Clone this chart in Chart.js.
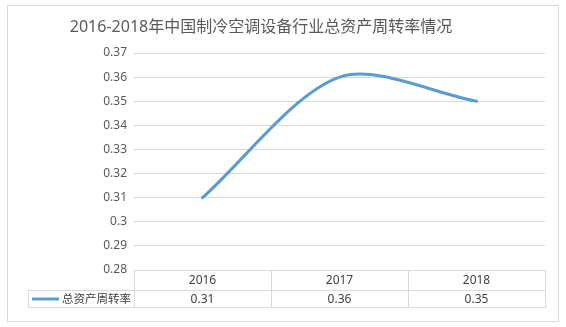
<!DOCTYPE html>
<html>
<head>
<meta charset="utf-8">
<script src="https://cdn.jsdelivr.net/npm/chart.js@4/dist/chart.umd.min.js"></script>
<style>
  html, body { margin: 0; padding: 0; background: #fff; }
  #wrap { position: relative; width: 566px; height: 327px; }
  #frame { position: absolute; left: 7px; top: 5px; width: 550px; height: 315px; border: 1px solid #d9d9d9; }
  canvas { position: absolute; left: 0; top: 0; }
</style>
</head>
<body>
<div id="wrap">
  <div id="frame"></div>
  <canvas id="c" width="566" height="327"></canvas>
</div>
<script>
const titleText = '2016-2018年中国制冷空调设备行业总资产周转率情况';
const categories = ['2016', '2017', '2018'];
const seriesName = '总资产周转率';
const turnover = [0.31, 0.36, 0.35];
const yMin = 0.28;
const yMax = 0.37;
const yStep = 0.01;

const FONT = '"Noto Sans", "Noto Sans CJK SC", sans-serif';
const LINE_COLOR = '#5B9BD5';
const GRID_COLOR = '#d9d9d9';

const tablePlugin = {
  id: 'tablePlugin',
  afterDraw(chart) {
    const ctx = chart.ctx;
    const area = chart.chartArea;
    const xs = chart.scales.x;
    const n = categories.length;
    const colW = (area.right - area.left) / n;
    const top = area.bottom;
    const mid = top + 20;
    const bot = top + 37;
    const legendLeft = 28;
    ctx.save();
    // title
    ctx.fillStyle = '#595959';
    ctx.font = '16px ' + FONT;
    ctx.textAlign = 'center';
    ctx.textBaseline = 'middle';
    ctx.fillText(titleText, 261, 27);
    // table lines
    ctx.strokeStyle = GRID_COLOR;
    ctx.lineWidth = 1;
    ctx.beginPath();
    ctx.moveTo(area.left, Math.round(top) + 0.5); ctx.lineTo(area.right + 1, Math.round(top) + 0.5);
    ctx.moveTo(legendLeft, Math.round(mid) + 0.5); ctx.lineTo(area.right + 1, Math.round(mid) + 0.5);
    ctx.moveTo(legendLeft, Math.round(bot) + 0.5); ctx.lineTo(area.right + 1, Math.round(bot) + 0.5);
    ctx.moveTo(legendLeft + 0.5, Math.round(mid)); ctx.lineTo(legendLeft + 0.5, Math.round(bot) + 1);
    for (let i = 0; i <= n; i++) {
      const x = Math.round(area.left + i * colW) + 0.5;
      ctx.moveTo(x, Math.round(top)); ctx.lineTo(x, Math.round(bot) + 1);
    }
    ctx.stroke();
    // texts
    ctx.fillStyle = '#404040';
    ctx.font = '12px ' + FONT;
    ctx.textAlign = 'center';
    for (let i = 0; i < n; i++) {
      const cx = xs.getPixelForValue(i);
      ctx.fillText(categories[i], cx, (top + mid) / 2 + 1);
      ctx.fillText(String(turnover[i]), cx, (mid + bot) / 2 + 1);
    }
    // legend
    ctx.strokeStyle = LINE_COLOR;
    ctx.lineWidth = 3;
    ctx.beginPath();
    ctx.moveTo(32, (mid + bot) / 2 + 0.5);
    ctx.lineTo(59, (mid + bot) / 2 + 0.5);
    ctx.stroke();
    ctx.fillStyle = '#404040';
    ctx.textAlign = 'left';
    ctx.font = '11.5px ' + FONT;
    ctx.fillText(seriesName, 62, (mid + bot) / 2 + 1);
    ctx.restore();
  }
};

new Chart(document.getElementById('c'), {
  type: 'line',
  data: {
    labels: categories,
    datasets: [{
      label: seriesName,
      data: turnover,
      borderColor: LINE_COLOR,
      borderWidth: 3,
      pointRadius: 0,
      pointHoverRadius: 0,
      fill: false,
      tension: 0.3,
      borderCapStyle: 'round'
    }]
  },
  options: {
    responsive: false,
    animation: false,
    devicePixelRatio: 1,
    layout: { padding: { top: 53, left: 0, right: 21, bottom: 57 } },
    plugins: {
      legend: { display: false },
      title: { display: false },
      tooltip: { enabled: false }
    },
    scales: {
      x: {
        type: 'category',
        display: false,
        offset: true
      },
      y: {
        min: yMin,
        max: yMax,
        afterFit(scale) { scale.width = 134; },
        border: { display: false },
        grid: { color: GRID_COLOR, drawTicks: false, lineWidth: 1 },
        ticks: {
          stepSize: yStep,
          padding: 7,
          color: '#595959',
          font: { family: FONT, size: 12 },
          callback: v => String(Number(Number(v).toFixed(2)))
        }
      }
    }
  },
  plugins: [tablePlugin]
});
</script>
</body>
</html>
